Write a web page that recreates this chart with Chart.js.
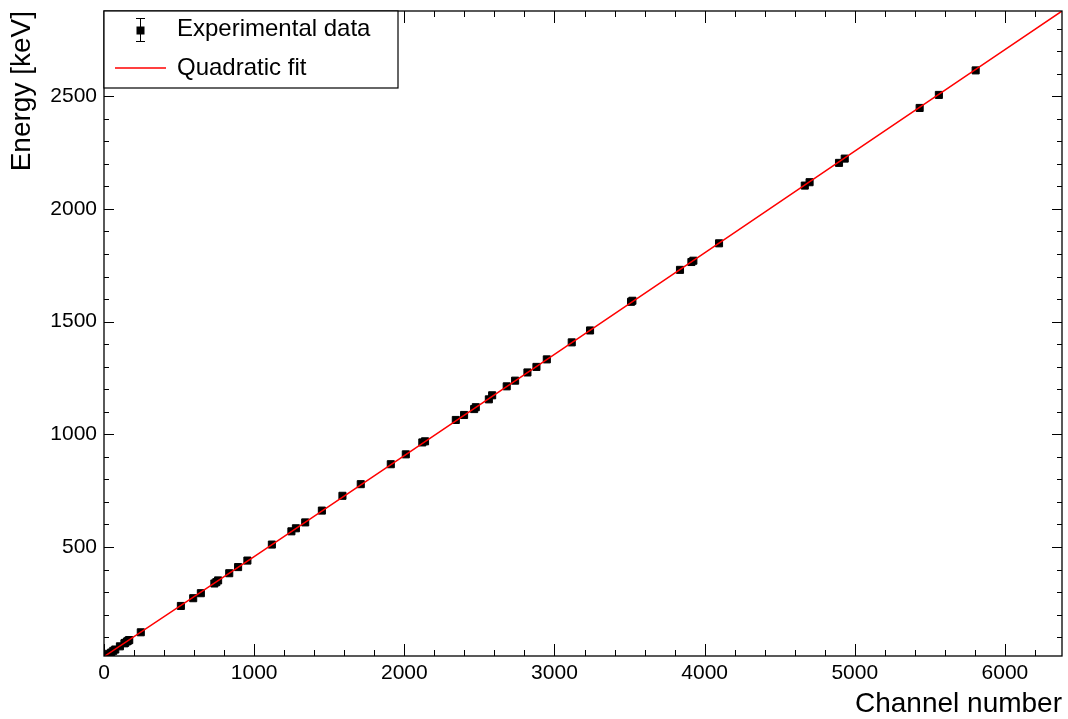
<!DOCTYPE html>
<html>
<head>
<meta charset="utf-8">
<script src="https://cdn.jsdelivr.net/npm/chart.js@4.4.1/dist/chart.umd.min.js"></script>
<style>
  html, body { margin: 0; padding: 0; background: #fff; }
  #wrap { width: 1068px; height: 719px; position: relative; }
</style>
</head>
<body>
<div id="wrap"><canvas id="calib" width="1068" height="719"></canvas></div>
<script>
// Calibration peaks (channel, energy in keV)
const channels = [14, 32, 48, 62, 75, 106, 136, 141, 153, 162, 168, 245,
  512, 594, 645, 735, 748, 760, 834, 893, 955, 1118, 1248, 1278, 1340, 1451,
  1588, 1710, 1910, 2010, 2120, 2138, 2343, 2398, 2465, 2476, 2563, 2585,
  2682, 2738, 2820, 2880, 2949, 3115, 3237, 3510, 3519, 3836, 3912, 3925,
  4096, 4667, 4699, 4895, 4933, 5432, 5560, 5805];
const energies = [18.6, 26.3, 32.1, 39.5, 45.4, 59.5, 72.8, 75.0, 81.0, 84.9, 87.3, 121.8,
  238.6, 273.0, 295.2, 338.3, 344.3, 351.9, 383.8, 411.1, 440.0, 511.0, 569.7, 583.2, 609.3, 661.7,
  727.3, 778.9, 867.4, 911.2, 964.1, 969.0, 1063.7, 1085.8, 1112.1, 1120.3, 1155.2, 1173.2,
  1212.9, 1238.1, 1274.5, 1299.1, 1332.5, 1408.0, 1460.8, 1588.0, 1592.5, 1729.6, 1764.5, 1770.2,
  1847.4, 2103.5, 2118.5, 2204.2, 2223.2, 2447.9, 2505.7, 2614.5];

// Fit curve
const fitChannels = [0, 1000, 2000, 3000, 4000, 5000, 6000, 6380];
const fitEnergies = [14, 458, 906, 1355, 1805, 2256, 2707, 2878];

// Axis ticks
const xTicks = [0, 1000, 2000, 3000, 4000, 5000, 6000];
const yTicks = [500, 1000, 1500, 2000, 2500];

const FONT = "'Liberation Sans', Arial, Helvetica, sans-serif";

// ROOT-like frame with inward ticks on all four sides
const frameTicks = {
  id: 'frameTicks',
  afterDatasetsDraw(chart) {
    const { ctx, chartArea: a, scales: { x, y } } = chart;
    ctx.save();
    ctx.strokeStyle = '#000';
    ctx.lineWidth = 1;
    ctx.beginPath();
    for (let v = 0; v <= x.max; v += 200) {
      const px = Math.round(x.getPixelForValue(v)) + 0.5;
      const len = v % 1000 === 0 ? 12 : 6;
      ctx.moveTo(px, a.bottom); ctx.lineTo(px, a.bottom - len);
      ctx.moveTo(px, a.top); ctx.lineTo(px, a.top + len);
    }
    for (let v = 100; v <= y.max; v += 100) {
      if (v < y.min) continue;
      const py = Math.round(y.getPixelForValue(v)) + 0.5;
      const len = v % 500 === 0 ? 10 : 5;
      ctx.moveTo(a.left, py); ctx.lineTo(a.left + len, py);
      ctx.moveTo(a.right, py); ctx.lineTo(a.right - len, py);
    }
    ctx.stroke();
    ctx.lineWidth = 1.3;
    ctx.strokeRect(a.left, a.top, a.right - a.left, a.bottom - a.top);
    ctx.restore();
  }
};

// Legend box in the top-left corner of the frame
const legendBox = {
  id: 'legendBox',
  afterDraw(chart) {
    const { ctx, chartArea: a } = chart;
    const bx = a.left, by = a.top, bw = 294, bh = 77;
    ctx.save();
    ctx.fillStyle = '#fff';
    ctx.fillRect(bx, by, bw, bh);
    ctx.strokeStyle = '#000';
    ctx.lineWidth = 1.2;
    ctx.strokeRect(bx, by, bw, bh);

    // data entry: marker with error bar
    const mx = bx + 36.5, my = by + 19.5;
    ctx.lineWidth = 1;
    ctx.beginPath();
    ctx.moveTo(mx, my - 12); ctx.lineTo(mx, my + 11);
    ctx.moveTo(mx - 4.5, my - 12); ctx.lineTo(mx + 4.5, my - 12);
    ctx.moveTo(mx - 4.5, my + 11); ctx.lineTo(mx + 4.5, my + 11);
    ctx.stroke();
    ctx.fillStyle = '#000';
    ctx.fillRect(mx - 4, my - 4, 8, 8);

    // fit entry: red line
    ctx.strokeStyle = '#ff0000';
    ctx.lineWidth = 1.5;
    ctx.beginPath();
    ctx.moveTo(bx + 11, by + 57); ctx.lineTo(bx + 62, by + 57);
    ctx.stroke();

    ctx.fillStyle = '#000';
    ctx.font = '24px ' + FONT;
    ctx.textBaseline = 'middle';
    ctx.textAlign = 'left';
    ctx.fillText('Experimental data', bx + 73, by + 18);
    ctx.fillText('Quadratic fit', bx + 73, by + 57);
    ctx.restore();
  }
};

const ctx = document.getElementById('calib').getContext('2d');
new Chart(ctx, {
  type: 'scatter',
  data: {
    datasets: [
      {
        label: 'Quadratic fit',
        data: fitChannels.map((c, i) => ({ x: c, y: fitEnergies[i] })),
        showLine: true,
        borderColor: '#ff0000',
        borderWidth: 1.5,
        pointRadius: 0,
        fill: false,
        clip: 0,
        order: 0
      },
      {
        label: 'Experimental data',
        data: channels.map((c, i) => ({ x: c, y: energies[i] })),
        pointStyle: 'rect',
        pointRadius: 5,
        pointBorderWidth: 1,
        pointBackgroundColor: '#000',
        pointBorderColor: '#000',
        showLine: false,
        clip: 0,
        order: 1
      }
    ]
  },
  options: {
    responsive: false,
    animation: false,
    devicePixelRatio: 1,
    layout: { padding: { top: 11, right: 5, left: 0, bottom: 0 } },
    plugins: {
      legend: { display: false },
      tooltip: { enabled: false }
    },
    scales: {
      x: {
        type: 'linear',
        min: 0,
        max: 6380,
        border: { display: false },
        grid: { display: false, drawTicks: false },
        afterBuildTicks: s => { s.ticks = xTicks.map(v => ({ value: v })); },
        afterFit: s => {
          s.height = 63;
          s.paddingLeft = 0;
          s.paddingRight = 0;
        },
        ticks: {
          autoSkip: false,
          maxRotation: 0,
          padding: 5,
          color: '#000',
          font: { family: FONT, size: 21 },
          callback: v => String(v)
        },
        title: {
          display: true,
          text: 'Channel number',
          align: 'end',
          color: '#000',
          font: { family: FONT, size: 28, lineHeight: 1 },
          padding: { top: 0, bottom: 1 }
        }
      },
      y: {
        type: 'linear',
        min: 16.6,
        max: 2878,
        border: { display: false },
        grid: { display: false, drawTicks: false },
        afterBuildTicks: s => { s.ticks = yTicks.map(v => ({ value: v })); },
        afterFit: s => {
          s.width = 104;
          s.paddingTop = 0;
          s.paddingBottom = 0;
        },
        ticks: {
          autoSkip: false,
          padding: 7,
          color: '#000',
          font: { family: FONT, size: 21 },
          callback: v => String(v)
        },
        title: {
          display: true,
          text: 'Energy [keV]',
          align: 'end',
          color: '#000',
          font: { family: FONT, size: 28, lineHeight: 1 },
          padding: { top: 8, bottom: 0 }
        }
      }
    }
  },
  plugins: [frameTicks, legendBox]
});
</script>
</body>
</html>
